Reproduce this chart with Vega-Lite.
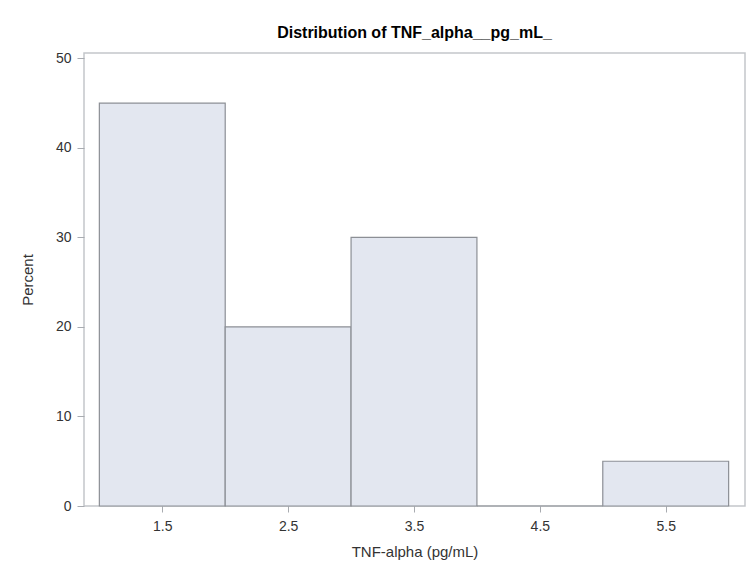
{
  "$schema": "https://vega.github.io/schema/vega-lite/v6.json",
  "width": 661,
  "height": 453,
  "autosize": {"type": "none"},
  "padding": {"left": 84, "top": 53, "right": 6, "bottom": 65},
  "background": "white",
  "title": {
    "text": "Distribution of TNF_alpha__pg_mL_",
    "font": "Liberation Sans",
    "fontSize": 16,
    "fontWeight": "bold",
    "color": "#000000",
    "anchor": "middle",
    "offset": 10
  },
  "config": {
    "view": {"stroke": "#c3c6ca", "strokeWidth": 1.5},
    "axis": {
      "labelFont": "Liberation Sans",
      "titleFont": "Liberation Sans",
      "labelFontSize": 14,
      "titleFontSize": 15,
      "labelColor": "#333333",
      "titleColor": "#333333",
      "titleFontWeight": "normal",
      "tickColor": "#a8abb0",
      "grid": false,
      "domain": false
    }
  },
  "data": {
    "values": [
      {"bin_start": 1, "bin_end": 2, "percent": 45},
      {"bin_start": 2, "bin_end": 3, "percent": 20},
      {"bin_start": 3, "bin_end": 4, "percent": 30},
      {"bin_start": 4, "bin_end": 5, "percent": 0},
      {"bin_start": 5, "bin_end": 6, "percent": 5}
    ]
  },
  "mark": {"type": "rect", "fill": "#e3e7f0", "stroke": "#8c8f95", "strokeWidth": 1.2},
  "encoding": {
    "x": {
      "field": "bin_start",
      "type": "quantitative",
      "scale": {"domain": [0.878, 6.13], "nice": false, "zero": false},
      "axis": {
        "title": "TNF-alpha (pg/mL)",
        "values": [1.5, 2.5, 3.5, 4.5, 5.5],
        "format": ".1f",
        "tickSize": 6,
        "labelPadding": 7,
        "titlePadding": 11
      }
    },
    "x2": {"field": "bin_end"},
    "y": {
      "field": "percent",
      "type": "quantitative",
      "scale": {"domain": [0, 50.6], "nice": false},
      "axis": {
        "title": "Percent",
        "values": [0, 10, 20, 30, 40, 50],
        "tickSize": 7,
        "labelPadding": 6,
        "titlePadding": 20
      }
    },
    "y2": {"datum": 0}
  }
}
